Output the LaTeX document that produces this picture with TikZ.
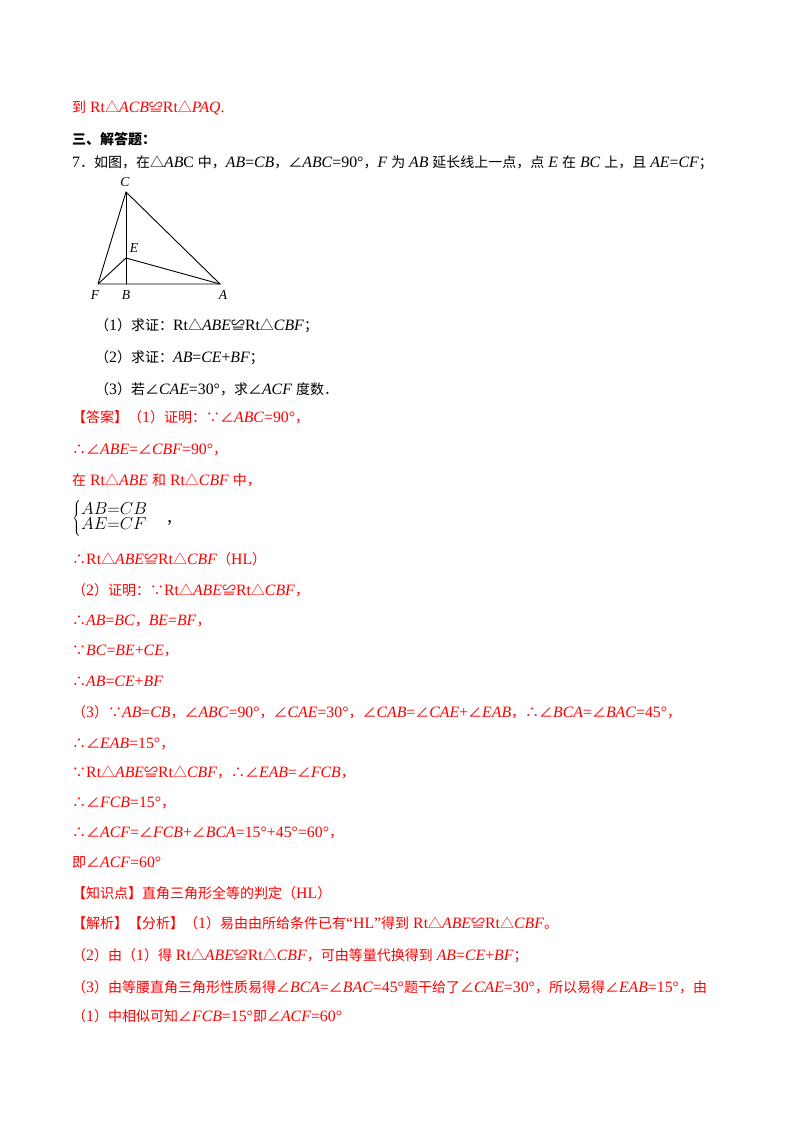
\documentclass[tikz,border=0pt]{standalone}
\usepackage{fontspec}
\setmainfont[Scale=1.13]{Liberation Serif}
\newfontfamily\cjk{Noto Sans CJK SC}
\XeTeXinterchartokenstate=1
\newXeTeXintercharclass\cjkclass
\count255="3000
\loop \XeTeXcharclass\count255=\cjkclass \advance\count255 1 \ifnum\count255<"A000 \repeat
\count255="FF00
\loop \XeTeXcharclass\count255=\cjkclass \advance\count255 1 \ifnum\count255<"FFF0 \repeat
\XeTeXcharclass"2220=\cjkclass
\XeTeXcharclass"2234=\cjkclass
\XeTeXcharclass"2235=\cjkclass
\XeTeXcharclass"25B3=\cjkclass
\XeTeXcharclass"224C=\cjkclass
\XeTeXinterchartoks 0 \cjkclass = {\begingroup\cjk}
\XeTeXinterchartoks 4095 \cjkclass = {\begingroup\cjk}
\XeTeXinterchartoks \cjkclass 0 = {\endgroup}
\XeTeXinterchartoks \cjkclass 4095 = {\endgroup}
\newcommand\I[1]{\textit{#1}}
\begin{document}
\begin{tikzpicture}[x=1pt,y=-1pt,
 ln/.style={anchor=base west,inner sep=0,font=\fontsize{14}{16}\selectfont},
 rd/.style={ln,text=red},
 lbl/.style={inner sep=0,font=\fontsize{12}{14}\selectfont\itshape},
 seg/.style={line width=0.9pt}]
\useasboundingbox (0,0) rectangle (800,1132);
\node[rd] (l1) at (72,112) {到 Rt△\I{ACB}≌Rt△\I{PAQ}.};
\node[ln,font=\fontsize{14}{16}\selectfont\bfseries] (l2) at (72,144) {三、解答题：};
\node[ln] (l3) at (72,167) {7．如图，在△\I{AB}C 中，\I{AB}=\I{CB}，∠\I{ABC}=90°，\I{F} 为 \I{AB} 延长线上一点，点 \I{E} 在 \I{BC} 上，且 \I{AE}=\I{CF}；};
% figure
\coordinate (C) at (126,192);
\coordinate (E) at (126,258);
\coordinate (B) at (126,284);
\coordinate (F) at (98,284);
\coordinate (A) at (220,284);
\draw[seg] (F) -- (A) -- (C) -- (F);
\draw[seg] (C) -- (B);
\draw[seg] (F) -- (E) -- (A);
\node[lbl] (lc) at (125,182) {C};
\node[lbl] (le) at (134,248) {E};
\node[lbl] (lf) at (95,295) {F};
\node[lbl] (lb) at (126,295) {B};
\node[lbl] (la) at (223,295) {A};
\node[ln] (q1) at (95,330) {（1）求证：Rt△\I{ABE}≌Rt△\I{CBF}；};
\node[ln] (q2) at (95,362) {（2）求证：\I{AB}=\I{CE}+\I{BF}；};
\node[ln] (q3) at (95,394) {（3）若∠\I{CAE}=30°，求∠\I{ACF} 度数．};
\node[rd] (a1) at (72,422) {【答案】（1）证明：∵∠\I{ABC}=90°，};
\node[rd] (a2) at (72,454) {∴∠\I{ABE}=∠\I{CBF}=90°，};
\node[rd] (a3) at (72,485) {在 Rt△\I{ABE} 和 Rt△\I{CBF} 中，};
\node[inner sep=0,anchor=west,font=\fontsize{17}{19}\selectfont] (br) at (72,518) {$\left\{\begin{array}{@{}l@{}}AB{=}CB\\[-4pt] AE{=}CF\end{array}\right.$\quad ,};
\node[rd] (a4) at (72,564) {∴Rt△\I{ABE}≌Rt△\I{CBF}（HL）};
\node[rd] (a5) at (72,595) {（2）证明：∵Rt△\I{ABE}≌Rt△\I{CBF}，};
\node[rd] (a6) at (72,625) {∴\I{AB}=\I{BC}，\I{BE}=\I{BF}，};
\node[rd] (a7) at (72,655) {∵\I{BC}=\I{BE}+\I{CE}，};
\node[rd] (a8) at (72,686) {∴\I{AB}=\I{CE}+\I{BF}};
\node[rd] (a9) at (72,717) {（3）∵\I{AB}=\I{CB}，∠\I{ABC}=90°，∠\I{CAE}=30°，∠\I{CAB}=∠\I{CAE}+∠\I{EAB}，∴∠\I{BCA}=∠\I{BAC}=45°，};
\node[rd] (a10) at (72,748) {∴∠\I{EAB}=15°，};
\node[rd] (a11) at (72,777) {∵Rt△\I{ABE}≌Rt△\I{CBF}，∴∠\I{EAB}=∠\I{FCB}，};
\node[rd] (a12) at (72,807) {∴∠\I{FCB}=15°，};
\node[rd] (a13) at (72,837) {∴∠\I{ACF}=∠\I{FCB}+∠\I{BCA}=15°+45°=60°，};
\node[rd] (a14) at (72,867) {即∠\I{ACF}=60°};
\node[rd] (a15) at (72,898) {【知识点】直角三角形全等的判定（HL）};
\node[rd] (a16) at (72,928) {【解析】【分析】（1）易由由所给条件已有“HL”得到 Rt△\I{ABE}≌Rt△\I{CBF}。};
\node[rd] (a17) at (72,960) {（2）由（1）得 Rt△\I{ABE}≌Rt△\I{CBF}，可由等量代换得到 \I{AB}=\I{CE}+\I{BF}；};
\node[rd] (a18) at (72,992) {（3）由等腰直角三角形性质易得∠\I{BCA}=∠\I{BAC}=45°题干给了∠\I{CAE}=30°，所以易得∠\I{EAB}=15°，由};
\node[rd] (a19) at (72,1021) {（1）中相似可知∠\I{FCB}=15°即∠\I{ACF}=60°};
\end{tikzpicture}
\end{document}
